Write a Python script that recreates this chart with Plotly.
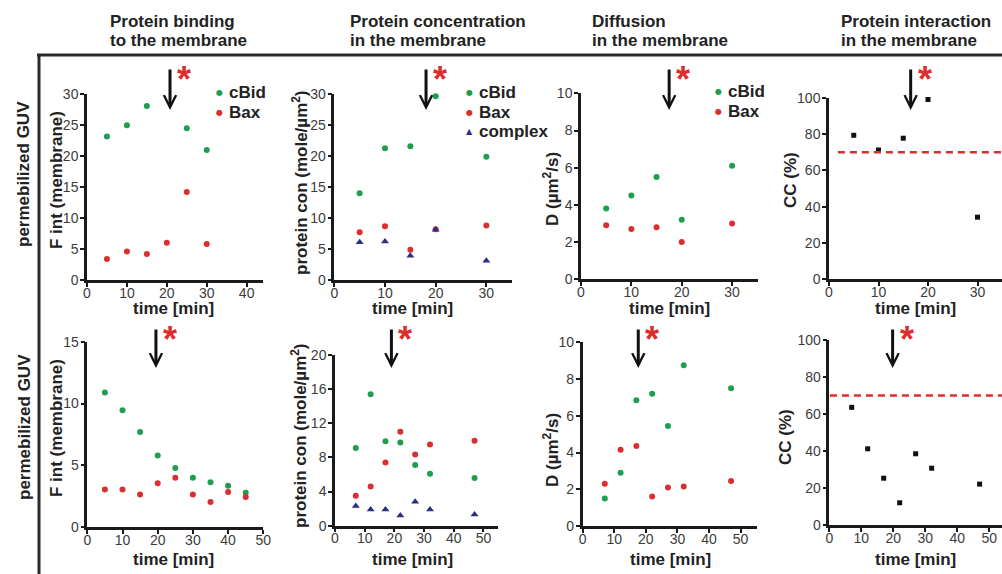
import plotly.graph_objects as go

W, H = 1002, 574

# ---- sampling times (min) ----
t_bind_top = [5, 10, 15, 20, 25, 30]
t_top = [5, 10, 15, 20, 30]
t_bind_bot = [5, 10, 15, 20, 25, 30, 35, 40, 45]
t_bot = [7, 12, 17, 22, 27, 32, 47]

# ---- protein binding to the membrane: F int (membrane) ----
fint_cbid_top = [23.2, 25.0, 28.1, None, 24.5, 21.0]
fint_bax_top = [3.4, 4.6, 4.2, 6.0, 14.2, 5.8]
fint_cbid_bot = [10.9, 9.45, 7.7, 5.8, 4.8, 4.0, 3.65, 3.35, 2.8]
fint_bax_bot = [3.05, 3.05, 2.65, 3.55, 4.0, 2.65, 2.05, 2.85, 2.45]

# ---- protein concentration in the membrane (mole/µm²) ----
con_cbid_top = [14.0, 21.3, 21.6, 29.7, 19.9]
con_bax_top = [7.7, 8.7, 4.9, 8.2, 8.8]
con_complex_top = [6.1, 6.2, 3.9, 8.1, 3.1]
con_cbid_bot = [9.1, 15.4, 9.9, 9.75, 7.1, 6.1, 5.6]
con_bax_bot = [3.5, 4.6, 7.4, 11.0, 8.35, 9.5, 9.95]
con_complex_bot = [2.3, 1.9, 1.9, 1.2, 2.8, 1.9, 1.3]

# ---- diffusion in the membrane: D (µm²/s) ----
d_cbid_top = [3.8, 4.5, 5.5, 3.2, 6.1]
d_bax_top = [2.9, 2.7, 2.8, 2.0, 3.0]
d_cbid_bot = [1.5, 2.9, 6.85, 7.2, 5.45, 8.75, 7.5]
d_bax_bot = [2.3, 4.15, 4.35, 1.6, 2.1, 2.15, 2.45]

# ---- protein interaction: cross-correlation CC (%) ----
cc_top = [79.3, 71.2, 77.7, 99.0, 34.2]
cc_bot = [63.6, 41.2, 25.3, 12.0, 38.5, 30.7, 22.1]
cc_threshold = 70

# ---- time of addition (arrow + asterisk), per panel ----
t_add = [20.8, 18.1, 17.5, 16.5, 19.5, 19.0, 17.6, 19.8]

# ---- text ----
col_headers = [
    ("Protein binding", "to the membrane"),
    ("Protein concentration", "in the membrane"),
    ("Diffusion", "in the membrane"),
    ("Protein interaction", "in the membrane"),
]
row_label = "permebilized GUV"
x_title = "time [min]"

# ---- styles ----
FONT = "Liberation Sans, Arial, Helvetica, sans-serif"
DARK = "#222222"
TICK_COL = "#3c3c3c"
GREEN = "#1f9e4f"
RED = "#dc2e2e"
NAVY = "#2b2f85"
BLACK = "#111111"
STYLE = {
    "cBid": dict(color=GREEN, symbol="circle", size=6),
    "Bax": dict(color=RED, symbol="circle", size=6),
    "complex": dict(color=NAVY, symbol="triangle-up", size=7),
    "CC": dict(color=BLACK, symbol="square", size=5),
}

# panel geometry in pixels: box = (x_left, x_right, y_top, y_bottom),
# xt = centre of the x title, yt = centre of the y title
panels = [
    dict(box=(87, 263, 94.3, 280), xr=[0, 44.1], yr=[0, 30], yd=5,
         ytitle="F int (membrane)", xt=(173, 308.5), yt=(56, 180),
         series=[("cBid", t_bind_top, fint_cbid_top), ("Bax", t_bind_top, fint_bax_top)],
         legend=219.3),
    dict(box=(334.3, 511.7, 94.3, 280), xr=[0, 35], yr=[0, 30], yd=5,
         ytitle="protein con (mole/µm<sup>2</sup>)", xt=(412, 308), yt=(300, 183),
         series=[("cBid", t_top, con_cbid_top), ("Bax", t_top, con_bax_top),
                 ("complex", t_top, con_complex_top)],
         legend=469.3),
    dict(box=(581, 758.3, 93.3, 279.3), xr=[0, 35.2], yr=[0, 10], yd=2,
         ytitle="D (µm<sup>2</sup>/s)", xt=(669, 308), yt=(551, 189),
         series=[("cBid", t_top, d_cbid_top), ("Bax", t_top, d_bax_top)],
         legend=718.3),
    dict(box=(829, 1002, 97.7, 279.3), xr=[0, 34.95], yr=[0, 100], yd=20,
         ytitle="CC (%)", xt=(915, 308.5), yt=(790, 180),
         series=[("CC", t_top, cc_top)], threshold=1.8),
    dict(box=(87.3, 263.3, 341.7, 527.3), xr=[0, 50], yr=[0, 15], yd=5,
         ytitle="F int (membrane)", xt=(173, 559.5), yt=(56, 428),
         series=[("cBid", t_bind_bot, fint_cbid_bot), ("Bax", t_bind_bot, fint_bax_bot)]),
    dict(box=(335, 498.3, 355, 525.7), xr=[0, 55], yr=[0, 20], yd=4,
         ytitle="protein con (mole/µm<sup>2</sup>)", xt=(412, 559.5), yt=(299, 436),
         series=[("cBid", t_bot, con_cbid_bot), ("Bax", t_bot, con_bax_bot),
                 ("complex", t_bot, con_complex_bot)]),
    dict(box=(582.7, 757.3, 342.3, 526), xr=[0, 55.3], yr=[0, 10], yd=2,
         ytitle="D (µm<sup>2</sup>/s)", xt=(670, 559.5), yt=(551, 450),
         series=[("cBid", t_bot, d_cbid_bot), ("Bax", t_bot, d_bax_bot)]),
    dict(box=(829.3, 1002, 340, 525), xr=[0, 54.0], yr=[0, 100], yd=20,
         ytitle="CC (%)", xt=(915, 559.5), yt=(785, 437),
         series=[("CC", t_bot, cc_bot)], threshold=0.2),
]


def px_x(p):
    return p / W


def px_y(p):
    return 1 - p / H


def label(x, y, text, size=17, angle=0, anchor="center", color=DARK):
    return dict(x=px_x(x), y=px_y(y), xref="paper", yref="paper",
                xanchor=anchor, yanchor="middle", showarrow=False,
                textangle=angle, text=text,
                font=dict(family=FONT, size=size, color=color, weight="bold"))


fig = go.Figure()
layout = {}
annotations = []
shapes = []

for i, pan in enumerate(panels):
    n = i + 1
    xa = "x" if n == 1 else f"x{n}"
    ya = "y" if n == 1 else f"y{n}"
    xl, xr_, yt, yb = pan["box"]
    top_row = i < 4

    axis_common = dict(
        showline=True, linecolor="#1a1a1a", linewidth=2.5,
        ticks="outside", ticklen=4, tickwidth=2, tickcolor="#1a1a1a",
        showgrid=False, zeroline=False, automargin=False,
        tickfont=dict(family=FONT, size=14, color=TICK_COL),
    )
    layout["xaxis" if n == 1 else f"xaxis{n}"] = dict(
        axis_common, domain=[px_x(xl), px_x(xr_)], range=pan["xr"],
        tick0=0, dtick=10, anchor=ya, ticklabelstandoff=-6,
    )
    layout["yaxis" if n == 1 else f"yaxis{n}"] = dict(
        axis_common, domain=[px_y(yb), px_y(yt)], range=pan["yr"],
        tick0=0, dtick=pan["yd"], anchor=xa, ticklabelstandoff=-1,
    )

    # axis titles
    annotations.append(label(*pan["xt"], x_title))
    annotations.append(label(*pan["yt"], pan["ytitle"], angle=-90))

    for name, xs, ys in pan["series"]:
        st = STYLE[name]
        fig.add_trace(go.Scatter(
            x=xs, y=ys, mode="markers", name=name, xaxis=xa, yaxis=ya,
            showlegend=False, cliponaxis=False,
            marker=dict(color=st["color"], symbol=st["symbol"], size=st["size"],
                        line=dict(width=0)),
        ))

    if "threshold" in pan:
        fig.add_trace(go.Scatter(
            x=[pan["threshold"], pan["xr"][1]], y=[cc_threshold, cc_threshold],
            mode="lines", xaxis=xa, yaxis=ya, showlegend=False,
            line=dict(color=RED, width=2.5, dash="7px,5px"),
        ))

    # addition marker: arrow with a red asterisk
    tip_px = 110 if top_row else 368
    tail_len = 42 if top_row else 40
    annotations.append(dict(
        x=t_add[i], xref=xa, y=px_y(tip_px), yref="paper",
        ax=0, ay=-tail_len, showarrow=True, arrowhead=5, arrowsize=0.8,
        arrowwidth=3, arrowcolor="#111111", text="", standoff=0,
    ))
    annotations.append(dict(
        x=t_add[i], xref=xa, y=px_y(tip_px - tail_len - 11), yref="paper",
        xshift=14, xanchor="center", yanchor="top", showarrow=False,
        text="<b>*</b>", font=dict(family=FONT, size=36, color=RED),
    ))

    # in-panel legend
    if "legend" in pan:
        lx = pan["legend"]
        for k, (name, _, _) in enumerate(pan["series"]):
            st = STYLE[name]
            cy = yt - 1.5 + k * 19.3
            glyph = "●" if st["symbol"] == "circle" else "▲"
            annotations.append(dict(
                x=px_x(lx), y=px_y(cy), xref="paper", yref="paper",
                xanchor="center", yanchor="middle", showarrow=False,
                text=glyph, font=dict(family="DejaVu Sans", size=8, color=st["color"]),
            ))
            annotations.append(label(lx + 8, cy, name, anchor="left"))

# column headers
header_x = [108, 348, 590, 839]
for hx, (l1, l2) in zip(header_x, col_headers):
    annotations.append(label(hx, 21.7, l1, anchor="left"))
    annotations.append(label(hx, 40.7, l2, anchor="left"))

# row labels
for cy in (174, 427):
    annotations.append(label(24, cy, row_label, angle=-90))

# table frame
shapes.append(dict(type="line", xref="paper", yref="paper",
                   x0=px_x(37), x1=1, y0=px_y(55), y1=px_y(55),
                   line=dict(color="#2a2a2a", width=3)))
shapes.append(dict(type="line", xref="paper", yref="paper",
                   x0=px_x(39), x1=px_x(39), y0=px_y(55), y1=0,
                   line=dict(color="#2a2a2a", width=3)))

fig.update_layout(
    width=W, height=H, template="none",
    margin=dict(l=0, r=0, t=0, b=0),
    paper_bgcolor="white", plot_bgcolor="rgba(0,0,0,0)",
    showlegend=False, annotations=annotations, shapes=shapes,
    font=dict(family=FONT, color=DARK),
    **layout,
)

fig.write_html("out.html", config={"displayModeBar": False})
